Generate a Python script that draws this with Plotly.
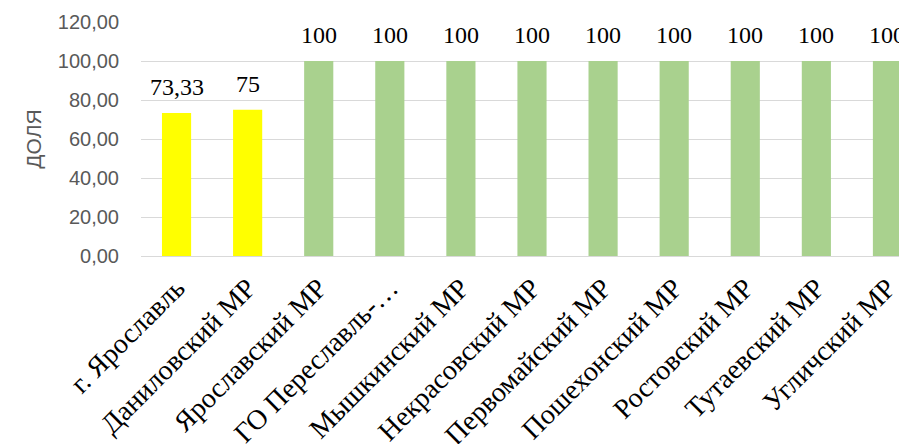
import plotly.graph_objects as go

categories = ["г. Ярославль", "Даниловский МР", "Ярославский МР", "ГО Переславль-…",
              "Мышкинский МР", "Некрасовский МР", "Первомайский МР", "Пошехонский МР",
              "Ростовский МР", "Тутаевский МР", "Угличский МР"]
values = [73.33, 75, 100, 100, 100, 100, 100, 100, 100, 100, 100]
colors = ["#FFFF00", "#FFFF00"] + ["#A9D18E"] * 9
y_ticks = [0, 20, 40, 60, 80, 100, 120]


def fmt(v):
    return str(int(v)) if float(v).is_integer() else f"{v:.2f}".replace(".", ",")


fig = go.Figure(go.Bar(
    x=list(range(len(categories))), y=values, marker=dict(color=colors, line=dict(width=0)),
    width=0.41, hoverinfo="skip"))

for i, v in enumerate(values):
    fig.add_annotation(x=i, y=v, text=fmt(v), showarrow=False, yanchor="bottom", yshift=11,
                       font=dict(family="Liberation Serif", size=24, color="#000000"))

# page body has an 8px default margin; figure sized so the chart fills the 907x444 window
fig.update_layout(
    width=899, height=436,
    margin=dict(l=133, r=0, t=14, b=188),
    plot_bgcolor="white", paper_bgcolor="white",
    separators=", ",
    showlegend=False,
    xaxis=dict(
        range=[-0.5, 10.275], tickmode="array", tickvals=list(range(len(categories))),
        ticktext=categories, tickangle=-45, showgrid=False, zeroline=False,
        showline=False, ticks="", automargin=False, ticklabelstandoff=9,
        tickfont=dict(family="Liberation Serif", size=28, color="#000000")),
    yaxis=dict(
        range=[0, 120], tickvals=y_ticks, tickformat=".2f", automargin=False,
        showgrid=True, gridcolor="#D9D9D9", gridwidth=1.3,
        zeroline=True, zerolinecolor="#D9D9D9", zerolinewidth=1.3,
        showline=False, ticks="", ticklabelstandoff=21,
        tickfont=dict(family="Liberation Sans", size=20, color="#595959"),
        title=dict(text="ДОЛЯ", standoff=10,
                   font=dict(family="Liberation Sans", size=21, color="#595959"))),
)

fig.write_html("out.html")
